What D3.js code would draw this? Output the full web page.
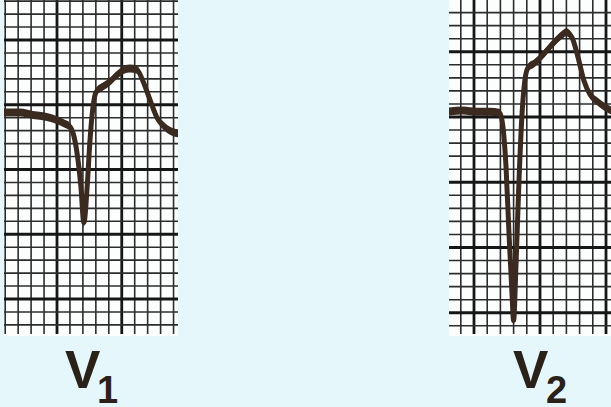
<!DOCTYPE html>
<html>
<head>
<meta charset="utf-8">
<script src="https://cdn.jsdelivr.net/npm/d3@7"></script>
<style>
  html, body { margin: 0; padding: 0; background: #e6f7fb; }
  svg { display: block; }
</style>
</head>
<body>
<div id="ecg"></div>
<script>
// Lead labels (letter + subscript)
const leadNames = ["V", "V"];
const leadSubs = ["1", "2"];

// V1: time in ms (0 = bold grid line) and amplitude in mV (0 = bold grid line)
const v1Time = [-165, -114, -74, -22, 19, 40, 53, 65, 74, 83, 93, 102, 111, 121, 142, 164, 185, 207, 226, 247, 266, 287, 309, 328, 349, 375];
const v1Volt = [-0.06, -0.06, -0.08, -0.10, -0.14, -0.17, -0.25, -0.43, -0.64, -0.91, -0.64, -0.27, -0.02, 0.10, 0.14, 0.18, 0.23, 0.27, 0.28, 0.27, 0.18, 0.04, -0.10, -0.16, -0.20, -0.22];

// V2
const v2Time = [-285, -233, -191, -152, -121, -112, -103, -94, -85, -80, -73, -64, -55, -46, -36, -18, 3, 24, 46, 67, 79, 97, 115, 133, 152, 173, 194, 215];
const v2Volt = [0.04, 0.05, 0.04, 0.04, 0.03, -0.08, -0.38, -0.89, -1.35, -1.56, -1.15, -0.51, 0.00, 0.28, 0.38, 0.41, 0.46, 0.52, 0.58, 0.63, 0.65, 0.61, 0.46, 0.28, 0.17, 0.12, 0.08, 0.05];

function drawEcg() {

    // 1. Dimensions and panel layout
    const dims = { width: 611, height: 407 };
    const panels = [
        { time: v1Time, volt: v1Volt, left: 4, right: 178, top: 0, bottom: 336, x0: 57, y0: 104.75, pxX: 12.95, pxY: 12.95, labelX: 65, subX: 97 },
        { time: v2Time, volt: v2Volt, left: 449, right: 611, top: 0, bottom: 336, x0: 540, y0: 117, pxX: 13.2, pxY: 13.05, labelX: 513, subX: 546 }
    ];

    const svg = d3.select("#ecg")
        .append("svg")
        .attr("width", dims.width)
        .attr("height", dims.height);

    svg.append("rect")
        .attr("width", dims.width)
        .attr("height", dims.height)
        .attr("fill", "#e6f7fb");

    panels.forEach((p, i) => {
        // 2. Scales: one small box = 40 ms / 0.1 mV
        const xScale = d3.scaleLinear().domain([0, 40]).range([p.x0, p.x0 + p.pxX]);
        const yScale = d3.scaleLinear().domain([0, 0.1]).range([p.y0, p.y0 - p.pxY]);

        const g = svg.append("g");

        g.append("rect")
            .attr("x", p.left)
            .attr("y", p.top)
            .attr("width", p.right - p.left)
            .attr("height", p.bottom - p.top)
            .attr("fill", "#fcfefe");

        // 3. Grid paper
        const tMin = xScale.invert(p.left), tMax = xScale.invert(p.right);
        const vLines = d3.range(Math.ceil(tMin / 40) * 40, tMax, 40);
        g.selectAll(".vgrid")
            .data(vLines)
            .enter().append("line")
            .attr("x1", d => xScale(d))
            .attr("x2", d => xScale(d))
            .attr("y1", p.top)
            .attr("y2", p.bottom - 2)
            .attr("stroke", d => Math.abs(d % 200) === 0 ? "#161616" : "#2c2c2c")
            .attr("stroke-width", d => Math.abs(d % 200) === 0 ? 2.8 : 1.6);

        const kMin = Math.ceil(yScale.invert(p.bottom - 6) * 10);
        const kMax = Math.floor(yScale.invert(p.top) * 10);
        const hLines = d3.range(kMin, kMax + 1);
        g.selectAll(".hgrid")
            .data(hLines)
            .enter().append("line")
            .attr("x1", p.left)
            .attr("x2", p.right)
            .attr("y1", d => yScale(d / 10))
            .attr("y2", d => yScale(d / 10))
            .attr("stroke", d => d % 5 === 0 ? "#161616" : "#2c2c2c")
            .attr("stroke-width", d => d % 5 === 0 ? 2.8 : 1.6);

        // 4. Trace
        const clipId = "clip" + i;
        svg.append("clipPath").attr("id", clipId)
            .append("rect")
            .attr("x", p.left).attr("y", p.top)
            .attr("width", p.right - p.left).attr("height", p.bottom - p.top);

        const pts = p.time.map((t, j) => [t, p.volt[j]]);
        const band = d3.area()
            .x(d => xScale(d[0]))
            .y0(d => yScale(d[1]) - 4)
            .y1(d => yScale(d[1]) + 4)
            .curve(d3.curveMonotoneX);
        const line = d3.line()
            .x(d => xScale(d[0]))
            .y(d => yScale(d[1]))
            .curve(d3.curveMonotoneX);

        const trace = g.append("g").attr("clip-path", `url(#${clipId})`);
        trace.append("path")
            .datum(pts)
            .attr("d", band)
            .attr("fill", "#3a2a20");
        trace.append("path")
            .datum(pts)
            .attr("d", line)
            .attr("fill", "none")
            .attr("stroke", "#3a2a20")
            .attr("stroke-width", 5)
            .attr("stroke-linejoin", "round");

        // 5. Lead label
        const label = svg.append("text")
            .attr("x", p.labelX)
            .attr("y", 388)
            .attr("fill", "#2a2118")
            .style("font-family", "'Liberation Sans', Arial, sans-serif")
            .style("font-weight", "bold")
            .style("font-size", "53px")
            .text(leadNames[i]);
        label.append("tspan")
            .attr("x", p.subX)
            .attr("y", 403)
            .style("font-size", "38px")
            .text(leadSubs[i]);
    });
}

drawEcg();
</script>
</body>
</html>
